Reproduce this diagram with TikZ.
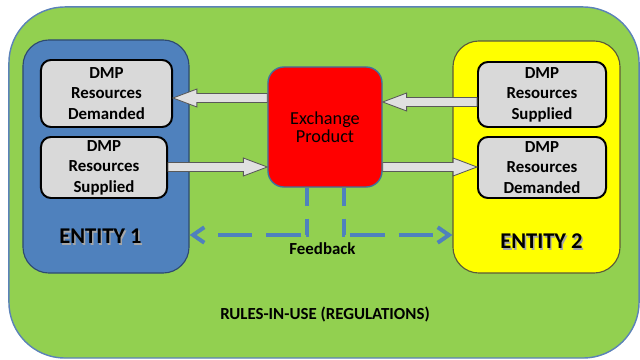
\documentclass[tikz,border=0pt]{standalone}
\usepackage{fontspec}
\setmainfont{Carlito}
\usetikzlibrary{arrows.meta, positioning, calc}

\definecolor{rulesgreen}{HTML}{92D050}
\definecolor{rulesedge}{HTML}{5B82B8}
\definecolor{ent1blue}{HTML}{4F81BD}
\definecolor{ent1edge}{HTML}{2E4A70}
\definecolor{ent2yellow}{HTML}{FFFF00}
\definecolor{ent2edge}{HTML}{5A5A3A}
\definecolor{exred}{HTML}{FF0000}
\definecolor{exedge}{HTML}{41719C}
\definecolor{boxgrey}{HTML}{D9D9D9}
\definecolor{fbblue}{HTML}{4F81BD}

% text with a soft grey shadow
\newcommand{\shadowtext}[1]{\makebox[0pt][l]{\hspace{1pt}\raisebox{-1pt}{\textcolor{black!35}{#1}}}#1}

\begin{document}
\begin{tikzpicture}[x=0.025cm, y=-0.025cm,
    dmp/.style={draw=black, line width=1.4pt, fill=boxgrey, rounded corners=0.25cm,
      align=center, inner sep=0pt, font=\bfseries\fontsize{12}{14.6}\selectfont},
    entity/.style={line width=0.8pt, rounded corners=0.65cm},
    blockarr/.style={draw=black!65, fill=black!12, line width=0.6pt, to path={
      ($(\tikztostart)!3.2pt!90:(\tikztotarget)$)
      -- ($(\tikztotarget)!17pt!(\tikztostart)!3.2pt!-90:(\tikztostart)$)
      -- ($(\tikztotarget)!17pt!(\tikztostart)!6.4pt!-90:(\tikztostart)$)
      -- (\tikztotarget)
      -- ($(\tikztotarget)!17pt!(\tikztostart)!6.4pt!90:(\tikztostart)$)
      -- ($(\tikztotarget)!17pt!(\tikztostart)!3.2pt!90:(\tikztostart)$)
      -- ($(\tikztostart)!3.2pt!-90:(\tikztotarget)$) -- cycle}},
    fb/.style={draw=fbblue, line width=2.8pt,
      dash pattern=on 12.8pt off 9.2pt on 12.1pt off 3.6pt on 24.9pt off 10pt on 24.2pt off 20pt,
      -{Straight Barb[length=8pt, width=11pt]}}]

    \useasboundingbox (0,0) rectangle (640,360);

    % outer frame
    \node[draw=rulesedge, line width=1pt, fill=rulesgreen, rounded corners=1.4cm,
      minimum width=15.75cm, minimum height=8.775cm] (rules) at (324,182.5) {};
    \node[font=\bfseries\fontsize{12}{14}\selectfont] (rulestxt) at (325,315) {RULES-IN-USE (REGULATIONS)};

    % the two entities
    \node[entity, draw=ent1edge, fill=ent1blue, minimum width=4.15cm, minimum height=5.825cm] (ent1) at (106,156.5) {};
    \node[entity, draw=ent2edge, fill=ent2yellow, minimum width=4.175cm, minimum height=5.8cm] (ent2) at (536.5,157) {};
    \node[font=\bfseries\fontsize{16}{19}\selectfont] (ent1txt) at (100.5,237) {\shadowtext{ENTITY 1}};
    \node[font=\bfseries\fontsize{16}{19}\selectfont] (ent2txt) at (541.5,242) {\shadowtext{ENTITY 2}};

    \node[dmp, minimum width=3.275cm, minimum height=1.675cm] (dmpdL) at (106.5,93.5) {DMP\\Resources\\Demanded};
    \node[dmp, minimum width=3.15cm, minimum height=1.525cm] (dmpsL) at (104,167.5) {DMP\\Resources\\Supplied};
    \node[dmp, minimum width=3.2cm, minimum height=1.625cm] (dmpsR) at (542,94.5) {DMP\\Resources\\Supplied};
    \node[dmp, minimum width=3.2cm, minimum height=1.525cm] (dmpdR) at (542,167.5) {DMP\\Resources\\Demanded};

    % exchange
    \node[draw=exedge, line width=1pt, fill=exred, rounded corners=0.4cm, align=center,
      minimum width=2.85cm, minimum height=3cm, font=\fontsize{13}{13}\selectfont] (red) at (325,127) {Exchange\\Product};

    \coordinate (yA) at (0,98);
    \coordinate (yB) at (0,167);
    \coordinate (yC) at (0,102);
    \coordinate (fbL) at (307,235);
    \coordinate (fbR) at (344,235);

    \draw[blockarr] (red.west |- yA) to (dmpdL.east |- yA);
    \draw[blockarr] (dmpsL.east |- yB) to (red.west |- yB);
    \draw[blockarr] (dmpsR.west |- yC) to (red.east |- yC);
    \draw[blockarr] (red.east |- yB) to (dmpdR.west |- yB);

    % feedback
    \draw[fb] (red.south -| fbL) |- (ent1.east |- fbL);
    \draw[fb] (red.south -| fbR) |- (ent2.west |- fbR);
    \node[font=\bfseries\fontsize{12}{14}\selectfont] (fbtxt) at (322.5,249) {Feedback};
\end{tikzpicture}
\end{document}
